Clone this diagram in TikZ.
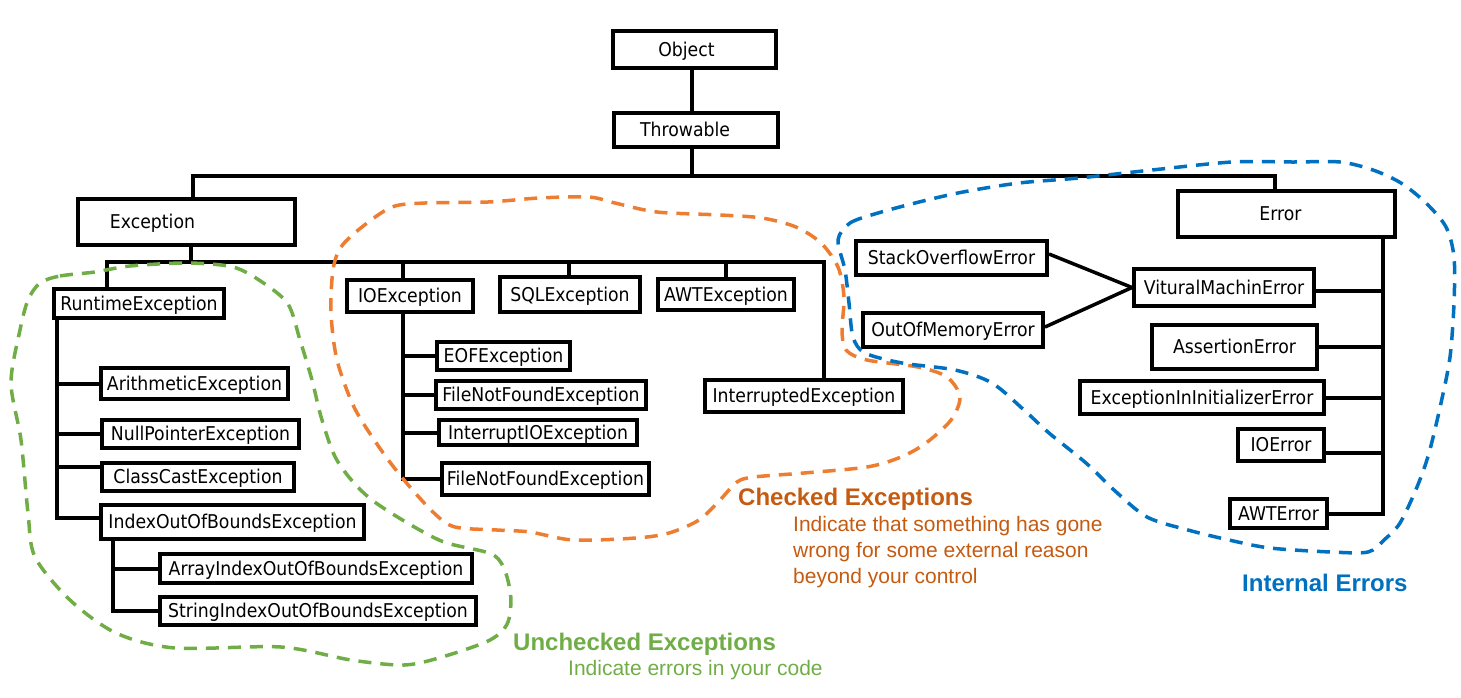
\documentclass[tikz,border=0pt]{standalone}
\usepackage{fontspec}
\setmainfont{DejaVu Sans}[FakeStretch=0.91]
\newfontfamily\lblfont{Liberation Sans}
\newcommand\boxfont{\fontsize{19}{22}\selectfont}
\newcommand\headfont{\lblfont\bfseries\fontsize{24}{28}\selectfont}
\newcommand\notefont{\lblfont\fontsize{21}{26}\selectfont}
\definecolor{gLoop}{HTML}{70AD47}
\definecolor{oLoop}{HTML}{ED7D31}
\definecolor{bLoop}{HTML}{0070C0}
\definecolor{oText}{HTML}{C55A11}
\tikzset{
  box/.style={draw, line width=4pt, fill=white, inner sep=0pt, font=\boxfont,
    text height=13.9pt, text depth=0pt},
  boxlbl/.style={font=\boxfont, text height=13.9pt, text depth=0pt, inner sep=0pt},
  conn/.style={line width=4pt, line cap=rect},
  diag/.style={line width=3.5pt},
  loopline/.style={line width=3.5pt, dash pattern=on 13pt off 9pt},
}
\begin{document}
\begin{tikzpicture}[x=1pt, y=-1pt]
\useasboundingbox (0,0) rectangle (1461,697);

% ---- boxes ----
\node[box, minimum width=163pt, minimum height=37pt,
  label={[boxlbl, xshift=-8pt]center:Object}] (obj) at (694.5,49.5) {};
\node[box, minimum width=164pt, minimum height=34pt,
  label={[boxlbl, xshift=-11pt]center:Throwable}] (thr) at (696,130) {};
\node[box, minimum width=217pt, minimum height=46pt,
  label={[boxlbl, xshift=-34pt]center:Exception}] (exc) at (186.5,222) {};
\node[box, minimum width=217pt, minimum height=46pt,
  label={[boxlbl, xshift=-6pt]center:Error}] (err) at (1286.5,214) {};

\node[box, minimum width=170pt, minimum height=29pt] (rte) at (139,303.5) {RuntimeException};
\node[box, minimum width=187pt, minimum height=31pt] (ari) at (194.5,383.5) {ArithmeticException};
\node[box, minimum width=197pt, minimum height=28pt] (npe) at (200.5,434) {NullPointerException};
\node[box, minimum width=192pt, minimum height=28pt] (cce) at (198,477) {ClassCastException};
\node[box, minimum width=263pt, minimum height=34pt] (ioob) at (232.5,522) {IndexOutOfBoundsException};
\node[box, minimum width=312pt, minimum height=29pt] (aioob) at (316,568.5) {ArrayIndexOutOfBoundsException};
\node[box, minimum width=316pt, minimum height=28pt] (sioob) at (318,611) {StringIndexOutOfBoundsException};

\node[box, minimum width=126pt, minimum height=32pt] (ioe) at (410,296) {IOException};
\node[box, minimum width=140pt, minimum height=35pt] (sql) at (570,294.5) {SQLException};
\node[box, minimum width=136pt, minimum height=31pt] (awt) at (726,294.5) {AWTException};
\node[box, minimum width=198pt, minimum height=32pt] (int) at (804,396) {InterruptedException};
\node[box, minimum width=133pt, minimum height=28pt] (eof) at (503.5,356) {EOFException};
\node[box, minimum width=210pt, minimum height=28pt] (fnf1) at (541,395) {FileNotFoundException};
\node[box, minimum width=198pt, minimum height=25pt] (iioe) at (538,432.5) {InterruptIOException};
\node[box, minimum width=207pt, minimum height=32pt] (fnf2) at (545.5,479) {FileNotFoundException};

\node[box, minimum width=191pt, minimum height=34pt] (soe) at (951.5,258) {StackOverflowError};
\node[box, minimum width=180pt, minimum height=34pt] (oom) at (953,330) {OutOfMemoryError};
\node[box, minimum width=180pt, minimum height=37pt] (vme) at (1224,287.5) {VituralMachinError};
\node[box, minimum width=165pt, minimum height=44pt] (ase) at (1234.5,347) {AssertionError};
\node[box, minimum width=244pt, minimum height=33pt] (eiie) at (1202,397.5) {ExceptionInInitializerError};
\node[box, minimum width=86pt, minimum height=32pt] (ioerr) at (1281,445) {IOError};
\node[box, minimum width=97pt, minimum height=29pt] (awterr) at (1278.5,513.5) {AWTError};

% ---- connectors ----
\coordinate (tb) at (692,176);
\draw[conn] (obj.south -| tb) -- (thr.north -| tb);
\draw[conn] (thr.south -| tb) -- (tb);
\draw[conn] ([xshift=6.5pt]exc.north) |- (tb);
\draw[conn] ([xshift=-11.5pt]err.north) |- (tb);

\coordinate (eb) at (191,262);
\draw[conn] (exc.south -| eb) -- (eb);
\draw[conn] ([xshift=-32pt]rte.north) |- (eb);
\draw[conn] ([xshift=-7pt]ioe.north) |- (eb);
\draw[conn] ([xshift=-1pt]sql.north) |- (eb);
\draw[conn] (awt.north) |- (eb);
\draw[conn] ([xshift=20pt]int.north) |- (eb);

\coordinate (rtT) at (57,320);
\coordinate (cceB) at (57,467);
\draw[conn] ([xshift=-82pt]rte.south) |- ([yshift=4pt]ioob.west);
\draw[conn] (ari.west) -- (ari.west -| rtT);
\draw[conn] (npe.west) -- (npe.west -| rtT);
\draw[conn] (cceB) -- (cceB -| cce.west);

\coordinate (iT) at (113,541);
\draw[conn] ([xshift=-119.5pt]ioob.south) |- (sioob.west);
\draw[conn] (aioob.west) -- (aioob.west -| iT);

\coordinate (ioT) at (403,314);
\draw[conn] ([xshift=-7pt]ioe.south) |- (fnf2.west);
\draw[conn] (eof.west) -- (eof.west -| ioT);
\draw[conn] (fnf1.west) -- (fnf1.west -| ioT);
\draw[conn] (iioe.west) -- (iioe.west -| ioT);

\coordinate (erT) at (1383,239);
\coordinate (vmeB) at (1383,291);
\coordinate (ioerrB) at (1383,453);
\draw[conn] ([xshift=96.5pt]err.south) |- (awterr.east);
\draw[conn] (vmeB) -- (vmeB -| vme.east);
\draw[conn] (ase.east) -- (ase.east -| erT);
\draw[conn] (eiie.east) -- (eiie.east -| erT);
\draw[conn] (ioerrB) -- (ioerrB -| ioerr.east);

\draw[diag] ([yshift=4pt]soe.east) -- (vme.west);
\draw[diag] ([yshift=3pt]oom.east) -- (vme.west);

% ---- group outlines ----
\draw[loopline, gLoop] plot[smooth cycle, tension=0.5] coordinates {
 (40,283) (60,276) (95,272) (130,266) (187,263) (233,267) (262,282) (288,304)
 (300,340) (312,380) (322,420) (338,462) (372,500) (439,540) (495,556) (510,590)
 (508,622) (490,640) (442,657) (404,665) (351,660) (281,647) (175,648) (116,633)
 (70,600) (35,557) (28,513) (21,440) (11,383) (20,330) (28,300)};

\draw[loopline, oLoop] plot[smooth cycle, tension=0.5] coordinates {
 (333,270) (341,247) (362,227) (392,207) (425,203) (488,202) (539,198) (589,197)
 (615,203) (657,212) (720,215) (762,218) (796,227) (821,243) (838,267) (844,297)
 (842,330) (846,350) (867,360) (918,367) (947,377) (960,397) (951,420) (926,443)
 (901,457) (867,467) (804,473) (754,477) (737,482) (720,500) (699,520) (669,533)
 (636,538) (573,540) (530,532) (497,530) (455,527) (434,513) (404,480) (379,447)
 (354,407) (337,360) (331,313)};

\draw[loopline, bLoop] plot[smooth cycle, tension=0.5] coordinates {
 (838,240) (850,223) (878,213) (919,202) (963,192) (1019,183) (1079,178) (1152,170)
 (1232,162) (1293,162) (1340,162) (1373,170) (1401,183) (1426,203) (1446,227)
 (1454,257) (1454,303) (1450,357) (1441,403) (1429,453) (1417,487) (1400,523)
 (1384,540) (1368,552) (1331,552) (1270,548) (1229,540) (1188,530) (1147,517)
 (1114,490) (1086,463) (1049,433) (1024,410) (992,383) (955,370) (902,363)
 (865,353) (853,337) (849,303) (845,270)};

% ---- captions ----
\node[anchor=base west, inner sep=0pt, font=\headfont, text=oText] (chkT) at (738,505) {Checked Exceptions};
\node[anchor=north west, inner sep=0pt, align=left, font=\notefont, text=oText] (chkD) at (793,516)
  {Indicate that something has gone\\wrong for some external reason\\beyond your control};
\node[anchor=base west, inner sep=0pt, font=\headfont, text=bLoop] (intT) at (1242,591) {Internal Errors};
\node[anchor=base west, inner sep=0pt, font=\headfont, text=gLoop] (unT) at (513,650) {Unchecked Exceptions};
\node[anchor=base west, inner sep=0pt, font=\notefont, text=gLoop] (unD) at (568,675) {Indicate errors in your code};
\end{tikzpicture}
\end{document}
